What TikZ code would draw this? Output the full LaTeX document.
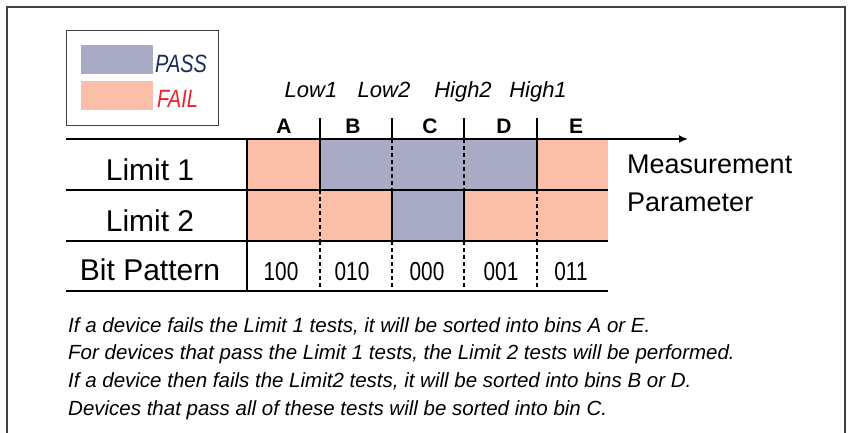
\documentclass[tikz,border=0pt]{standalone}
\usepackage{fontspec}
\setmainfont{Liberation Sans}
\newfontfamily\cond[FakeStretch=0.8]{Liberation Sans}
\usetikzlibrary{arrows.meta}
\definecolor{passc}{HTML}{A9AAC3}
\definecolor{failc}{HTML}{FBBEA8}
\definecolor{passtxt}{HTML}{1C2C55}
\definecolor{failtxt}{HTML}{E8232B}
\definecolor{framec}{HTML}{404040}
\tikzset{
  frameline/.style={draw=framec,line width=1.5pt},
  legendbox/.style={draw=framec,line width=1pt},
  hline/.style={draw=black,line width=2pt},
  topline/.style={draw=black,line width=2.5pt},
  solidv/.style={draw=black,line width=2pt},
  dashv/.style={draw=black,line width=1.5pt,dash pattern=on 4pt off 3pt},
  rowlabel/.style={anchor=base,inner sep=0pt,font=\fontsize{30}{34}\selectfont},
  binlabel/.style={anchor=base,inner sep=0pt,font=\bfseries\fontsize{21}{24}\selectfont},
  limlabel/.style={anchor=base,inner sep=0pt,font=\itshape\fontsize{22}{26}\selectfont},
  bits/.style={anchor=base,inner sep=0pt,font=\cond\fontsize{26}{30}\selectfont},
  legtext/.style={anchor=base west,inner sep=0pt,font=\cond\itshape\fontsize{25}{30}\selectfont},
  axislabel/.style={anchor=base west,inner sep=0pt,font=\fontsize{27}{32}\selectfont},
  note/.style={anchor=base west,inner sep=0pt,font=\itshape\fontsize{20.5}{24}\selectfont},
}
\begin{document}
\begin{tikzpicture}[x=1pt,y=-1pt]
\useasboundingbox (0,0) rectangle (849,432);
% outer frame (bottom edge lies below the picture)
\draw[frameline] (7,440) -- (7,7) -- (845,7) -- (845,440);
% legend
\draw[legendbox] (66,30) rectangle (218,125);
\fill[passc] (81,45) rectangle (153,74);
\fill[failc] (81,81) rectangle (153,110);
\node[legtext,text=passtxt] (pass) at (155,72) {PASS};
\node[legtext,text=failtxt] (fail) at (157,107) {FAIL};
% cell fills
\fill[failc] (247,139) rectangle (320,190);
\fill[passc] (320,139) rectangle (537,190);
\fill[failc] (537,139) rectangle (608,190);
\fill[failc] (247,190) rectangle (392,241);
\fill[passc] (392,190) rectangle (464,241);
\fill[failc] (464,190) rectangle (608,241);
% horizontal lines
\coordinate (axisstart) at (66,139);
\coordinate (axisend) at (688,139);
\draw[topline,-{Latex[length=9pt,width=8pt]}] (axisstart) -- (axisend);
\draw[hline] (66,190) -- (608,190);
\draw[hline] (66,241) -- (608,241);
\draw[hline] (66,291) -- (608,291);
% ticks above the table
\foreach \x in {320,392,464,537} \draw[solidv] (\x,118) -- (\x,139);
% column divider
\draw[solidv] (247,139) -- (247,291);
% row 1 verticals
\draw[solidv] (320,139) -- (320,190);
\draw[dashv] (392,139) -- (392,190);
\draw[dashv] (464,139) -- (464,190);
\draw[solidv] (537,139) -- (537,190);
% row 2 verticals
\draw[dashv] (320,190) -- (320,241);
\draw[solidv] (392,190) -- (392,241);
\draw[solidv] (464,190) -- (464,241);
\draw[dashv] (537,190) -- (537,241);
% row 3 verticals
\foreach \x in {320,392,464,537} \draw[dashv] (\x,241) -- (\x,291);
% limit labels
\node[limlabel] (low1) at (311,97) {Low1};
\node[limlabel] (low2) at (384,97) {Low2};
\node[limlabel] (high2) at (463,97) {High2};
\node[limlabel] (high1) at (538,97) {High1};
% bin letters
\node[binlabel] (binA) at (284,133) {A};
\node[binlabel] (binB) at (353,133) {B};
\node[binlabel] (binC) at (430,133) {C};
\node[binlabel] (binD) at (504,133) {D};
\node[binlabel] (binE) at (576,133) {E};
% row labels
\node[rowlabel] (lim1) at (150,180) {Limit 1};
\node[rowlabel] (lim2) at (150,231) {Limit 2};
\node[rowlabel] (bitp) at (150,280) {Bit Pattern};
% bit patterns
\node[bits] (bA) at (281,280) {100};
\node[bits] (bB) at (352,280) {010};
\node[bits] (bC) at (427,280) {000};
\node[bits] (bD) at (501,280) {001};
\node[bits] (bE) at (571,280) {011};
% axis label
\node[axislabel] (meas) at (627,173) {Measurement};
\node[axislabel] (param) at (627,211) {Parameter};
% notes
\node[note] (t1) at (68,332) {If a device fails the Limit 1 tests, it will be sorted into bins A or E.};
\node[note] (t2) at (68,359) {For devices that pass the Limit 1 tests, the Limit 2 tests will be performed.};
\node[note] (t3) at (68,387) {If a device then fails the Limit2 tests, it will be sorted into bins B or D.};
\node[note] (t4) at (68,415) {Devices that pass all of these tests will be sorted into bin C.};
\end{tikzpicture}
\end{document}
